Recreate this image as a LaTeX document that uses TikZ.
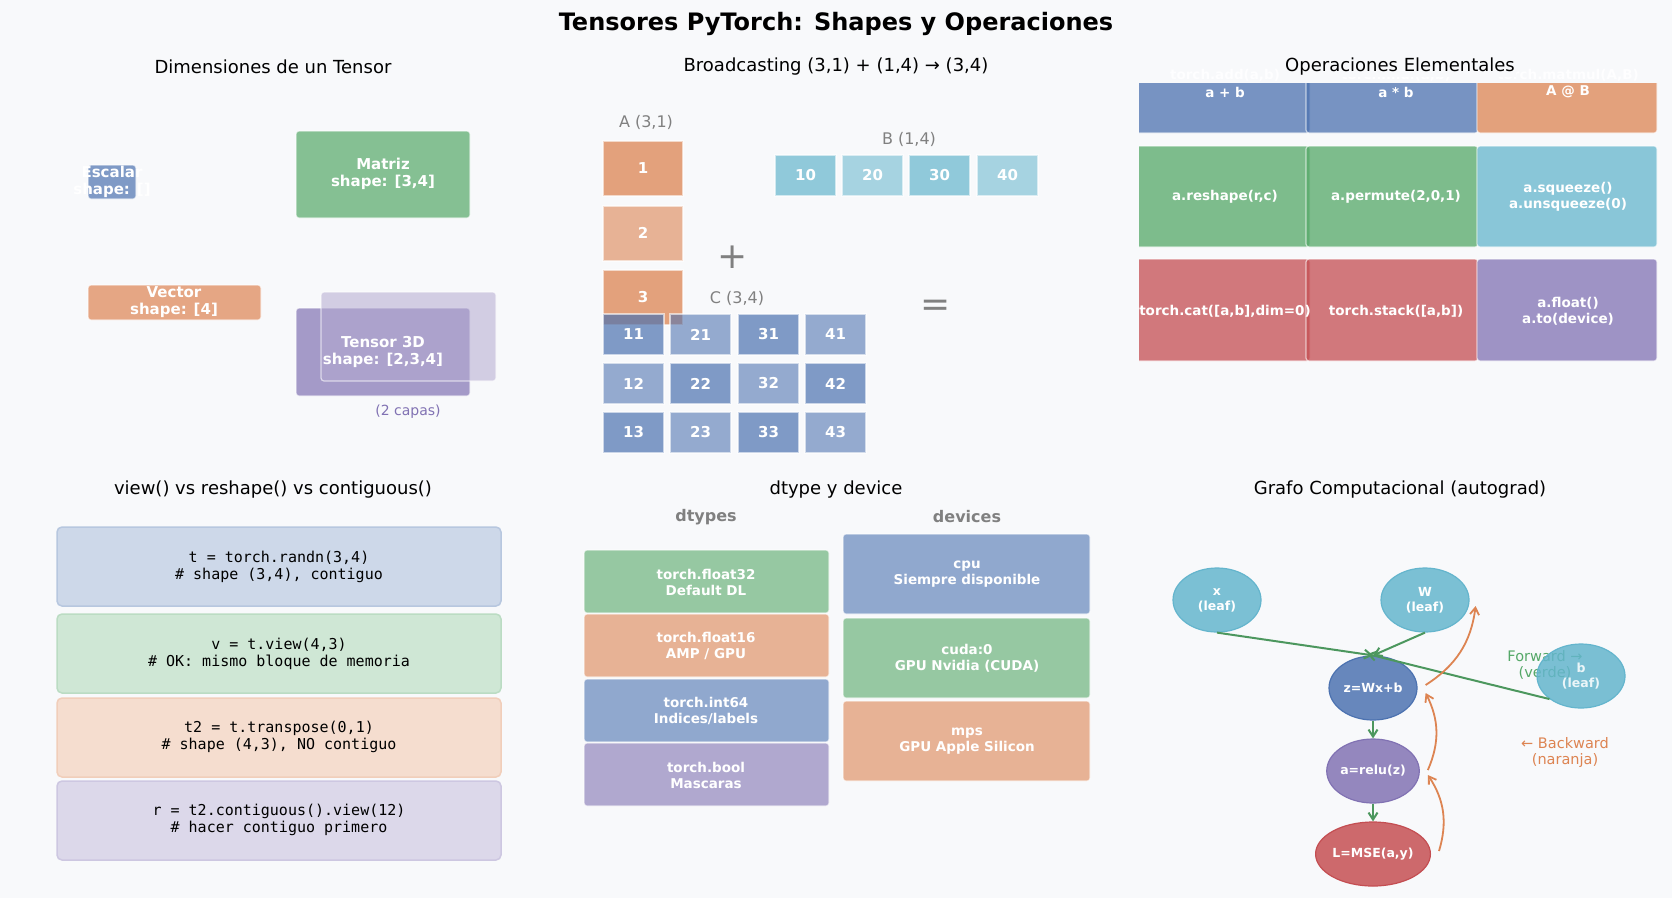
\documentclass[tikz,border=0pt]{standalone}
\usepackage{fontspec}
\setmainfont{DejaVu Sans}
\setmonofont{DejaVu Sans Mono}
\usetikzlibrary{arrows.meta,shapes.geometric,calc}
\definecolor{bg}{HTML}{F8F9FB}
\definecolor{cb}{HTML}{4C72B0}
\definecolor{cg}{HTML}{55A868}
\definecolor{co}{HTML}{DD8452}
\definecolor{cr}{HTML}{C44E52}
\definecolor{cp}{HTML}{8172B3}
\definecolor{cc}{HTML}{64B5CD}
\definecolor{gr}{HTML}{808080}
\begin{document}
\begin{tikzpicture}[x=1pt,y=-1pt,
  ttl/.style={font=\fontsize{18}{21}\selectfont},
  box/.style={rounded corners=3pt,draw=white,line width=1.2pt,fill opacity=0.7,draw opacity=0.6},
  lbl/.style={text=white,font=\bfseries\fontsize{15}{17}\selectfont,align=center},
  sl/.style={text=white,font=\bfseries\fontsize{13.5}{16}\selectfont,align=center},
  cell/.style={draw=white,line width=1.2pt,draw opacity=0.6},
  code/.style={rounded corners=5pt,line width=1.5pt},
  ct/.style={font=\ttfamily\fontsize{15}{17}\selectfont,align=center},
  el/.style={ellipse,minimum width=88pt,minimum height=64pt,inner sep=0pt,line width=1.2pt,text=white,font=\bfseries\fontsize{12.5}{15}\selectfont,align=center},
  fa/.style={-{Straight Barb[length=7pt,width=9pt]},cg!90!black,line width=2pt},
  ba/.style={-{Straight Barb[length=7pt,width=9pt]},co,line width=1.8pt}]
\fill[bg] (0,0) rectangle (1672,898);
\useasboundingbox (0,0) rectangle (1672,898);
\node[font=\bfseries\fontsize{24}{27}\selectfont] (title) at (836,24) {Tensores PyTorch: Shapes y Operaciones};
% panel 1
\node[ttl] (t1) at (273,67) {Dimensiones de un Tensor};
\fill[cb,box] (88,165) rectangle (136,199);
\node[lbl] (esc) at (112,182) {Escalar\\shape: []};
\fill[cg,box] (296,131) rectangle (470,218);
\node[lbl] (mat) at (383,174) {Matriz\\shape: [3,4]};
\fill[co,box] (88,285) rectangle (261,320);
\node[lbl] (vec) at (174,302) {Vector\\shape: [4]};
\fill[cp,box] (296,308) rectangle (470,396);
\fill[cp!60,box,fill opacity=0.55] (321,292) rectangle (496,381);
\node[lbl] (t3d) at (383,352) {Tensor 3D\\shape: [2,3,4]};
\node[text=cp,font=\fontsize{14}{16}\selectfont] (capas) at (408,412) {(2 capas)};
% panel 2
\node[ttl] (t2) at (836,67) {Broadcasting (3,1) + (1,4) → (3,4)};
\node[text=gr,font=\fontsize{16}{18}\selectfont] (la) at (646,122) {A (3,1)};
\node[text=gr,font=\fontsize{16}{18}\selectfont] (lb) at (909,139) {B (1,4)};
\foreach \y/\v/\o in {141/1/0.75,206/2/0.6,270/3/0.75}
  \fill[co,cell,fill opacity=\o] (603,\y) rectangle (683,\y+55);
\node[lbl] (a1) at (643,168) {1};
\node[lbl] (a2) at (643,233) {2};
\node[lbl] (a3) at (643,297) {3};
\foreach \x/\v/\o in {775/10/0.7,842/20/0.55,909/30/0.7,977/40/0.55}{
  \fill[cc,cell,fill opacity=\o] (\x,155) rectangle (\x+61,196);
  \node[lbl] (b\v) at (\x+30.5,175.5) {\v};}
\node[text=gr,font=\fontsize{36}{38}\selectfont] (plus) at (733,257) {+};
\node[text=gr,font=\fontsize{16}{18}\selectfont] (lc) at (737,298) {C (3,4)};
\node[text=gr,font=\fontsize{36}{38}\selectfont] (eq) at (936,308) {=};
\foreach \i/\x in {1/603,2/670,3/738,4/805}
 \foreach \j/\y in {1/314,2/363,3/412}{
  \pgfmathsetmacro\op{mod(\i+\j,2)==0?0.7:0.58}
  \fill[cb,cell,fill opacity=\op] (\x,\y) rectangle (\x+61,\y+41);
  \node[lbl] (c\i\j) at (\x+30.5,\y+20.5) {\i\j};}
% panel 3
\begin{scope}
\clip (1139,83) rectangle (1672,400);
\foreach \x/\w/\c in {1100/210/cb,1306/172/cb,1477/180/co}
  \fill[\c,box,fill opacity=0.75] (\x,60) rectangle (\x+\w,133);
\foreach \x/\w/\c in {1100/210/cg,1306/172/cg,1477/180/cc}
  \fill[\c,box,fill opacity=0.75] (\x,146) rectangle (\x+\w,247);
\foreach \x/\w/\c in {1100/210/cr,1306/172/cr,1477/180/cp}
  \fill[\c,box,fill opacity=0.75] (\x,259) rectangle (\x+\w,361);
\end{scope}
\node[sl,text=white!92!bg] (add) at (1225,75) {torch.add(a,b)};
\node[sl,text=white!92!bg] (mul) at (1396,75) {torch.mul(a,b)};
\node[sl,text=white!92!bg] (mm) at (1568,75) {torch.matmul(A,B)};
\node[ttl,fill=bg,inner sep=1pt] (t3) at (1400,67) {Operaciones Elementales};
\node[sl] (o1) at (1225,92) {a + b};
\node[sl] (o2) at (1396,92) {a * b};
\node[sl] (o3) at (1568,92) {A @ B};
\node[sl] (o4) at (1225,197) {a.reshape(r,c)};
\node[sl] (o5) at (1396,197) {a.permute(2,0,1)};
\node[sl] (o6) at (1568,197) {a.squeeze()\\a.unsqueeze(0)};
\node[sl] (o7) at (1225,311) {torch.cat([a,b],dim=0)};
\node[sl] (o8) at (1396,311) {torch.stack([a,b])};
\node[sl] (o9) at (1568,311) {a.float()\\a.to(device)};
% panel 4
\node[ttl] (t4) at (273,490) {view() vs reshape() vs contiguous()};
\foreach \y/\c in {527/cb,614/cg,698/co,781/cp}
  \draw[code,fill=\c!28!white,draw=\c!40!white] (57,\y) rectangle (501,\y+79);
\node[ct] (k1) at (279,567) {t = torch.randn(3,4)\\\# shape (3,4), contiguo};
\node[ct] (k2) at (279,654) {v = t.view(4,3)\\\# OK: mismo bloque de memoria};
\node[ct] (k3) at (279,737) {t2 = t.transpose(0,1)\\\# shape (4,3), NO contiguo};
\node[ct] (k4) at (279,820) {r = t2.contiguous().view(12)\\\# hacer contiguo primero};
% panel 5
\node[ttl] (t5) at (836,490) {dtype y device};
\node[text=gr,font=\bfseries\fontsize{16}{18}\selectfont] (dt) at (706,517) {dtypes};
\node[text=gr,font=\bfseries\fontsize{16}{18}\selectfont] (dv) at (967,517) {devices};
\foreach \y/\c in {550/cg,614/co,679/cb,743/cp}
  \fill[\c,box,fill opacity=0.6] (584,\y) rectangle (829,\y+63);
\node[sl] (d1) at (706,582) {torch.float32\\Default DL};
\node[sl] (d2) at (706,646) {torch.float16\\AMP / GPU};
\node[sl] (d3) at (706,711) {torch.int64\\Indices/labels};
\node[sl] (d4) at (706,775) {torch.bool\\Mascaras};
\foreach \y/\c in {534/cb,618/cg,701/co}
  \fill[\c,box,fill opacity=0.6] (843,\y) rectangle (1090,\y+80);
\node[sl] (e1) at (967,574) {cpu\\Siempre disponible};
\node[sl] (e2) at (967,658) {cuda:0\\GPU Nvidia (CUDA)};
\node[sl] (e3) at (967,741) {mps\\GPU Apple Silicon};
% panel 6
\node[ttl] (t6) at (1400,490) {Grafo Computacional (autograd)};
\node[el,fill=cc!85,draw=cc] (x) at (1217,600) {x\\(leaf)};
\node[el,fill=cc!85,draw=cc] (w) at (1425,600) {W\\(leaf)};
\node[el,fill=cb!85,draw=cb] (z) at (1373,688) {z=Wx+b};
\node[el,fill=cp!85,draw=cp] (a) at (1373,771) {a=relu(z)};
\node[el,fill=cr!85,draw=cr] (L) at (1373,854) {L=MSE(a,y)};
\node[text=cg,font=\fontsize{14.5}{16}\selectfont,align=center] (fw) at (1545,665) {Forward →\\(verde)};
\node[el,fill=cc,draw=cc,fill opacity=0.85] (b) at (1581,676) {b\\(leaf)};
\node[text=co,font=\fontsize{14.5}{16}\selectfont,align=center] (bw) at (1565,752) {← Backward\\(naranja)};
\draw[fa] (x.south) -- (z.north);
\draw[fa] (w.south) -- (z.north);
\draw[fa,shorten >=-6pt] (b.south west) -- (z.north);
\draw[fa] (z.south) -- (a.north);
\draw[fa] (a.south) -- (L.north);
\coordinate (z1) at ($(z.east)+(8,-3)$);
\coordinate (w1) at ($(w.east)+(6,6)$);
\draw[ba] (z1) to[bend right=25] (w1);
\coordinate (a1e) at ($(a.east)+(8,-1)$);
\coordinate (z2e) at ($(z.east)+(8,5)$);
\draw[ba] (a1e) to[bend right=25] (z2e);
\coordinate (L1e) at ($(L.east)+(8,-3)$);
\coordinate (a2e) at ($(a.east)+(8,4)$);
\draw[ba] (L1e) to[bend right=25] (a2e);
\end{tikzpicture}
\end{document}
